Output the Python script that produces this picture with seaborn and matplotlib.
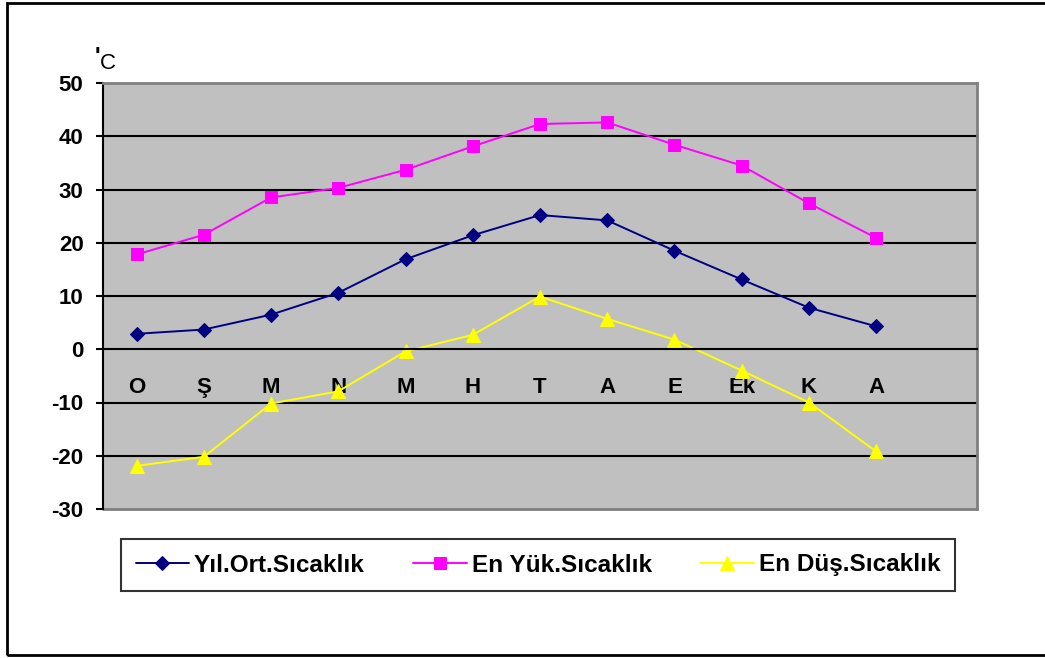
import numpy as np
import pandas as pd
import matplotlib
matplotlib.use('Agg')
import matplotlib.pyplot as plt
import seaborn as sns
from matplotlib.patches import Rectangle

# Month labels (O, Ş, M, N, M, H, T, A, E, Ek, K, A)
months = ['O', 'Ş', 'M', 'N', 'M', 'H', 'T', 'A', 'E', 'Ek', 'K', 'A']
ort = [2.9, 3.7, 6.5, 10.6, 16.9, 21.4, 25.2, 24.2, 18.5, 13.1, 7.8, 4.3]
yuk = [17.8, 21.5, 28.5, 30.3, 33.7, 38.1, 42.3, 42.6, 38.4, 34.5, 27.4, 20.9]
dus = [-21.9, -20.2, -10.2, -7.9, -0.4, 2.7, 9.9, 5.7, 1.8, -4.0, -10.0, -19.2]
series_names = ['Yıl.Ort.Sıcaklık', 'En Yük.Sıcaklık', 'En Düş.Sıcaklık']
yticks = [50, 40, 30, 20, 10, 0, -10, -20, -30]

sns.set_style('white')
plt.rcParams['font.family'] = ['Liberation Sans', 'DejaVu Sans']
plt.rcParams['text.color'] = 'black'
plt.rcParams['xtick.color'] = 'black'
plt.rcParams['ytick.color'] = 'black'

df = pd.DataFrame({'pos': np.arange(len(months)),
                   series_names[0]: ort,
                   series_names[1]: yuk,
                   series_names[2]: dus})
long_df = df.melt(id_vars=['pos'], var_name='seri', value_name='deger')

W, H = 1045, 658
fig = plt.figure(figsize=(W / 100, H / 100), dpi=100)
ax = fig.add_axes([103 / W, 1 - 509 / H, (977 - 103) / W, (509 - 83) / H])
ax.set_facecolor('#C0C0C0')

colors = {series_names[0]: '#000080', series_names[1]: '#FF00FF', series_names[2]: '#FFFF00'}
markers = {series_names[0]: 'D', series_names[1]: 's', series_names[2]: '^'}
sizes = {series_names[0]: 7.5, series_names[1]: 9, series_names[2]: 10}

for name in series_names:
    sub = long_df[long_df['seri'] == name]
    sns.lineplot(x='pos', y='deger', data=sub, color=colors[name], marker=markers[name],
                 markersize=sizes[name], markeredgecolor=colors[name], lw=1.4,
                 label=name, ax=ax, legend=False)

ax.set_xlim(-0.5, 12.5)
ax.set_ylim(-30, 50)
ax.set_yticks(yticks)
ax.set_yticklabels([str(v) for v in yticks], fontsize=16, fontweight='bold')
for v in yticks:
    if -30 < v < 50 and v != 0:
        ax.axhline(v, color='black', lw=1.5, zorder=1)

# category axis crossing at zero
ax.spines['bottom'].set_position(('data', 0))
ax.spines['bottom'].set_color('black')
ax.spines['bottom'].set_linewidth(1.5)
ax.spines['left'].set_color('black')
ax.spines['left'].set_linewidth(1.5)
ax.spines['top'].set_color('#808080')
ax.spines['right'].set_color('#808080')
ax.spines['top'].set_linewidth(2)
ax.spines['right'].set_linewidth(2)
ax.plot([0, 1], [0, 0], transform=ax.transAxes, color='#808080', lw=2, clip_on=False)

ax.set_xticks(np.arange(-0.5, 13.0, 1.0))
ax.set_xticklabels([])
ax.set_xticks(np.arange(len(months)), minor=True)
ax.set_xticklabels(months, minor=True, fontsize=16, fontweight='bold')
ax.tick_params(axis='x', which='major', direction='out', length=5, width=1.5, color='black')
ax.tick_params(axis='x', which='minor', length=0, pad=20)
ax.tick_params(axis='y', direction='out', length=5, width=1.5, color='black', pad=9, left=True)
ax.set_xlabel('')
ax.set_ylabel('')

# unit label
fig.text(95 / W, 1 - 64 / H, "'", fontsize=17, fontweight='bold', ha='left', va='baseline')
fig.text(100 / W, 1 - 69 / H, 'C', fontsize=16, ha='left', va='baseline')

handles, labels = ax.get_legend_handles_labels()
leg = fig.legend(handles, labels, loc='center', ncol=3,
                 bbox_to_anchor=(538 / W, 1 - 565 / H),
                 frameon=True, fancybox=False, edgecolor='black',
                 prop={'weight': 'bold', 'size': 17.5}, handlelength=2.2,
                 handletextpad=0.2, columnspacing=2.0, borderpad=0.6)
leg.get_frame().set_linewidth(1.5)

# outer chart border (right edge lies outside the picture)
fig.patches.append(Rectangle((7 / W, 1 - 655 / H), (1060 - 7) / W, (655 - 3) / H,
                             transform=fig.transFigure, fill=False, edgecolor='black',
                             lw=2, zorder=10))

fig.savefig('out.png', dpi=100)
